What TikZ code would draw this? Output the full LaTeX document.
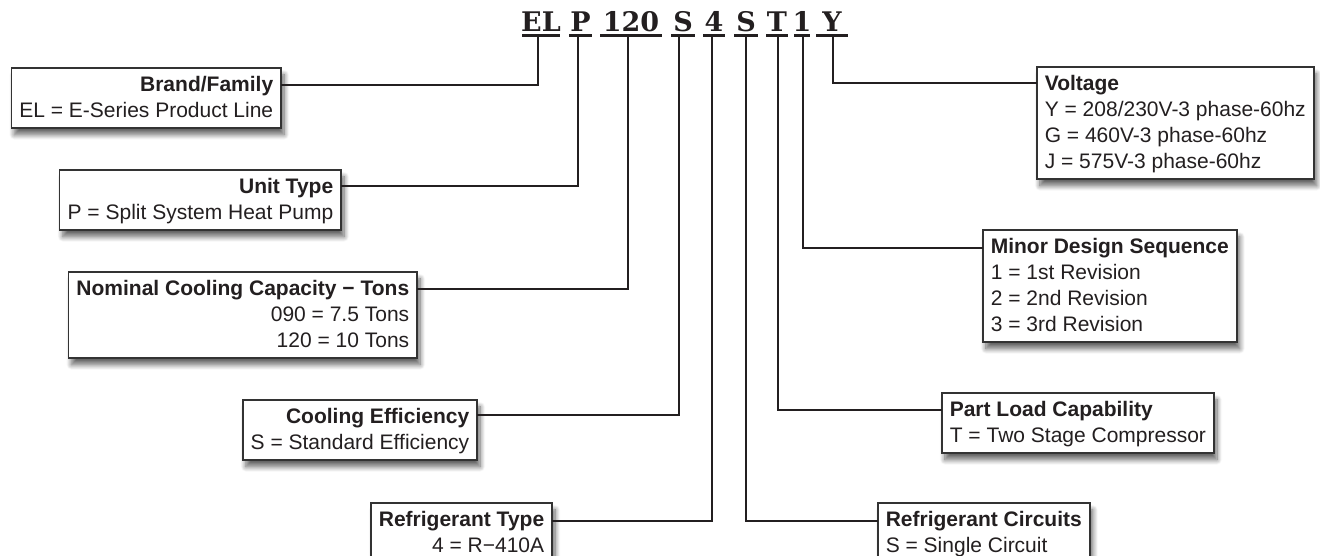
\documentclass[tikz,border=0pt]{standalone}
\usepackage{fontspec}
\setmainfont{Liberation Sans}
\newfontfamily\hdrfont{DejaVu Serif}
\usetikzlibrary{shadows.blur}
\definecolor{ink}{HTML}{231F20}
\definecolor{frame}{HTML}{333333}
\newcommand{\topst}{\rule{0pt}{24pt}}
\newcommand{\botst}{\rule[-10pt]{0pt}{10pt}}
\tikzset{
  box/.style={draw=frame, line width=1.6pt, fill=white, inner xsep=8pt, inner ysep=0pt,
    text=ink, font=\fontsize{21}{26}\selectfont,
    blur shadow={shadow xshift=3pt, shadow yshift=-7pt, shadow blur radius=5pt, shadow blur steps=10, shadow opacity=60}},
  lbox/.style={box, align=right, anchor=north east},
  rbox/.style={box, align=left, anchor=north west},
  code/.style={font=\hdrfont\bfseries\fontsize{27}{27}\selectfont, text=ink, anchor=base, inner sep=0pt},
  uline/.style={draw=ink, line width=3pt},
  conn/.style={draw=ink, line width=2.4pt, line cap=rect}
}
\begin{document}
\begin{tikzpicture}[x=1pt, y=-1pt]
\useasboundingbox (0,0) rectangle (1320,556);
% header letters
\node[code] (gEL) at (541,32) {EL};
\node[code] (gP) at (580.5,32) {P};
\node[code] (g120) at (631,32) {120};
\node[code] (gS1) at (683,32) {S};
\node[code] (g4) at (714,32) {4};
\node[code] (gS2) at (746,32) {S};
\node[code] (gT) at (777,32) {T};
\node[code] (g1) at (802,32) {1};
\node[code] (gY) at (832,32) {Y};
% underlines
\draw[uline] (522,36) -- (560,36);
\draw[uline] (569,36) -- (592,36);
\draw[uline] (600,36) -- (662,36);
\draw[uline] (671,36) -- (695,36);
\draw[uline] (703,36) -- (725,36);
\draw[uline] (734,36) -- (758,36);
\draw[uline] (766,36) -- (788,36);
\draw[uline] (794,36) -- (810,36);
\draw[uline] (816,36) -- (848,36);
\coordinate (uEL) at (538,37);
\coordinate (uP) at (578,37);
\coordinate (u120) at (628,37);
\coordinate (uS1) at (679,37);
\coordinate (u4) at (712,37);
\coordinate (uS2) at (746,37);
\coordinate (uT) at (778,37);
\coordinate (u1) at (803,37);
\coordinate (uY) at (833,37);
% boxes
\node[lbox] (brand) at (282,67)
  {\topst\textbf{Brand/Family}\\EL = E-Series Product Line\botst};
\node[lbox] (unit) at (342,169)
  {\topst\textbf{Unit Type}\\P = Split System Heat Pump\botst};
\node[lbox] (nom) at (418,271)
  {\topst\textbf{Nominal Cooling Capacity − Tons}\\090 = 7.5 Tons\\120 = 10 Tons\botst};
\node[lbox] (eff) at (478,399)
  {\topst\textbf{Cooling Efficiency}\\S = Standard Efficiency\botst};
\node[lbox] (rtype) at (553,502)
  {\topst\textbf{Refrigerant Type}\\4 = R−410A\botst};
\node[rbox] (rcirc) at (877,502)
  {\topst\textbf{Refrigerant Circuits}\\S = Single Circuit\botst};
\node[rbox] (pload) at (941,392)
  {\topst\textbf{Part Load Capability}\\T = Two Stage Compressor\botst};
\node[rbox] (minor) at (982,229)
  {\topst\textbf{Minor Design Sequence}\\1 = 1st Revision\\2 = 2nd Revision\\3 = 3rd Revision\botst};
\node[rbox] (volt) at (1036,66)
  {\topst\textbf{Voltage}\\Y = 208/230V-3 phase-60hz\\G = 460V-3 phase-60hz\\J = 575V-3 phase-60hz\botst};
% connectors
\draw[conn] ([yshift=-18pt]brand.north east) -| (uEL);
\draw[conn] ([yshift=-17pt]unit.north east) -| (uP);
\draw[conn] ([yshift=-18pt]nom.north east) -| (u120);
\draw[conn] ([yshift=-16pt]eff.north east) -| (uS1);
\draw[conn] ([yshift=-19pt]rtype.north east) -| (u4);
\draw[conn] ([yshift=-19pt]rcirc.north west) -| (uS2);
\draw[conn] ([yshift=-18pt]pload.north west) -| (uT);
\draw[conn] ([yshift=-19pt]minor.north west) -| (u1);
\draw[conn] ([yshift=-17pt]volt.north west) -| (uY);
\end{tikzpicture}
\end{document}
